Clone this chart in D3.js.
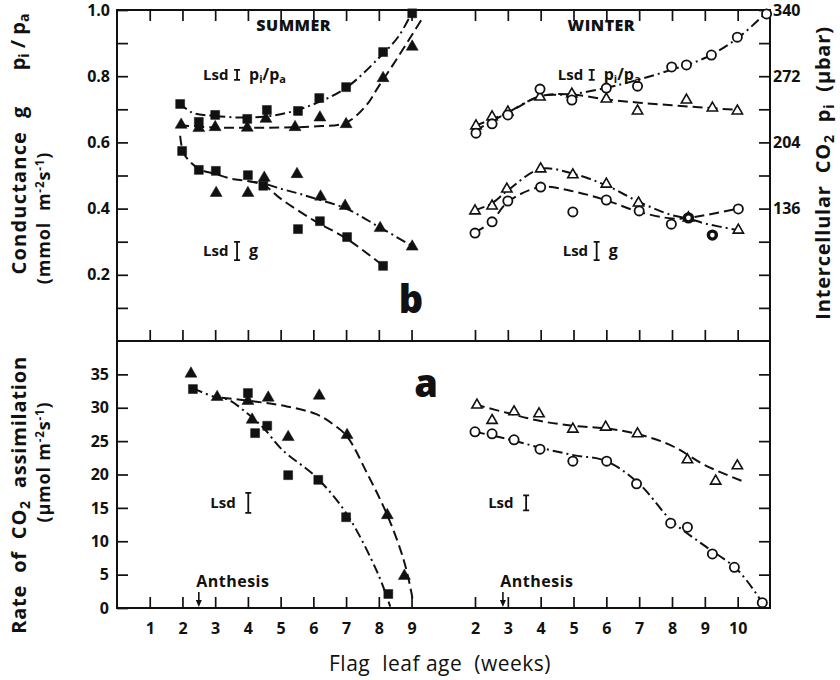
<!DOCTYPE html>
<html>
<head>
<meta charset="utf-8">
<script src="https://cdn.jsdelivr.net/npm/d3@7"></script>
<style>
  body { margin: 0; background: #fff; }
  text { font-family: 'Open Sans', Lato, sans-serif; fill: #111; white-space: pre; }
  .tick text { font-weight: 700; font-size: 16px; }
</style>
</head>
<body>
<div id="chart"></div>
<script>
// ---- data: [week, value] ----
// summer, panel b (pi/pa and conductance g share the left 0..1 axis)
const sumRatioSq = [[1.93,0.716],[2.5,0.662],[3.0,0.683],[3.98,0.671],[4.58,0.698],[5.53,0.695],[6.18,0.734],[7.0,0.767],[8.13,0.873],[9.02,0.99]];
const sumRatioTri = [[1.96,0.653],[2.5,0.643],[3.0,0.646],[3.98,0.644],[4.55,0.671],[5.44,0.646],[6.2,0.675],[7.0,0.655],[8.13,0.794],[9.02,0.889]];
const sumGSq = [[1.99,0.574],[2.5,0.517],[3.02,0.514],[4.0,0.501],[4.47,0.469],[5.53,0.338],[6.2,0.362],[7.03,0.314],[8.13,0.227]];
const sumGTri = [[3.03,0.447],[4.0,0.447],[4.5,0.493],[5.5,0.504],[6.22,0.436],[6.97,0.408],[8.04,0.341],[9.02,0.285]];
// fitted curves
const sumRatioSqFit = [[1.9,0.72],[2.3,0.69],[3.0,0.68],[4.0,0.675],[5.0,0.685],[6.0,0.715],[7.0,0.765],[8.0,0.855],[8.6,0.92],[9.05,1.0]];
const sumRatioTriFit = [[1.9,0.652],[3.0,0.645],[5.0,0.645],[6.0,0.648],[7.0,0.66],[7.6,0.71],[8.0,0.77],[8.6,0.86],[9.3,0.97]];
const sumGSqFit = [[1.93,0.62],[2.05,0.565],[2.5,0.52],[3.0,0.505],[3.5,0.49],[4.0,0.483],[4.5,0.47],[5.0,0.43],[6.0,0.365],[7.0,0.31],[8.1,0.23]];
const sumGTriFit = [[4.0,0.483],[4.5,0.475],[5.0,0.46],[5.5,0.447],[6.0,0.432],[7.0,0.40],[8.0,0.345],[9.0,0.288]];

// winter, panel b
const winRatioCirc = [[2.03,0.628],[2.52,0.656],[3.0,0.683],[3.98,0.761],[4.95,0.728],[6.0,0.764],[6.95,0.77],[7.99,0.828],[8.44,0.834],[9.2,0.864],[9.99,0.918],[10.88,0.988]];
const winRatioTri = [[2.03,0.65],[2.52,0.677],[3.0,0.692],[3.98,0.737],[4.95,0.746],[6.0,0.731],[6.95,0.695],[8.44,0.728],[9.23,0.704],[9.99,0.695]];
const winGTri = [[2.0,0.393],[2.52,0.408],[2.97,0.459],[4.0,0.52],[4.98,0.502],[6.0,0.474],[6.98,0.417],[8.5,0.372],[10.02,0.335]];
const winGCirc = [[2.0,0.326],[2.52,0.36],[3.0,0.423],[4.0,0.465],[4.98,0.39],[6.0,0.426],[7.0,0.393],[7.98,0.353],[10.02,0.399]];
const winGCircHeavy = [[8.5,0.372],[9.23,0.32]];
const winRatioCircFit = [[2.0,0.635],[3.0,0.69],[4.0,0.74],[4.9,0.745],[6.0,0.765],[7.0,0.79],[8.0,0.82],[9.0,0.855],[10.0,0.915],[10.9,0.995]];
const winRatioTriFit = [[2.0,0.65],[3.0,0.69],[4.0,0.74],[4.9,0.745],[6.0,0.73],[7.0,0.72],[8.0,0.712],[9.0,0.705],[10.0,0.698]];
const winGTriFit = [[2.0,0.395],[2.5,0.415],[3.0,0.455],[4.0,0.52],[5.0,0.505],[6.0,0.47],[7.0,0.42],[8.0,0.38],[8.5,0.37],[9.0,0.355],[10.0,0.335]];
const winGCircFit = [[2.0,0.328],[2.5,0.36],[3.0,0.42],[4.0,0.465],[5.0,0.452],[6.0,0.425],[7.0,0.39],[8.0,0.37],[8.5,0.372],[9.0,0.38],[10.0,0.4]];

// panel a, CO2 assimilation (umol m-2 s-1)
const sumATri = [[2.26,35.1],[3.06,31.6],[4.0,31.0],[4.13,28.2],[4.62,31.5],[5.23,25.6],[6.18,31.8],[7.03,25.9],[8.26,13.9],[8.78,4.8]];
const sumASq = [[2.32,32.8],[4.0,32.2],[4.22,26.2],[4.59,27.3],[5.23,19.9],[6.15,19.2],[7.0,13.6],[8.29,2.1]];
const sumASqFit = [[2.32,32.9],[3.0,31.6],[3.4,31.2],[3.97,29.2],[4.47,27],[5.05,23.7],[6.11,19.5],[7.03,14],[7.95,5.4],[8.35,0.2]];
const sumATriFit = [[3.2,31.5],[4.27,30.9],[5.19,30.2],[6.11,29],[6.61,27.5],[7.03,25.7],[7.64,20.2],[8.26,13.9],[8.76,7.2],[9.0,2.2],[9.03,1.2]];
const winATri = [[2.06,30.4],[2.52,28.1],[3.19,29.4],[3.95,29.1],[4.98,26.8],[5.98,27.1],[6.95,26.1],[8.47,22.2],[9.33,19.0],[9.99,21.3]];
const winACirc = [[2.0,26.4],[2.52,26.1],[3.19,25.2],[3.98,23.8],[4.98,22.0],[6.01,22.0],[6.92,18.6],[7.96,12.7],[8.47,12.1],[9.23,8.1],[9.9,6.1],[10.75,0.8]];
const winATriFit = [[2.0,30.5],[3.0,29.2],[4.0,28.0],[5.0,27.3],[6.0,26.9],[7.0,26.0],[8.0,24.3],[9.0,21.4],[10.15,19.0]];
const winACircFit = [[2.0,26.4],[3.0,25.3],[4.0,24.0],[5.0,22.9],[6.0,22.0],[7.0,18.6],[8.0,13.0],[9.0,9.3],[10.0,5.7],[10.75,0.8]];

// anthesis (weeks) and Lsd bar lengths
const anthesisSummer = 2.5, anthesisWinter = 2.85;
const lsdRatio = 0.03, lsdG = 0.055, lsdASummer = 3.0, lsdAWinter = 2.25;

// ticks
const summerWeeks = [1,2,3,4,5,6,7,8,9];
const winterWeeks = [2,3,4,5,6,7,8,9,10];
const topTicks = d3.range(1, 11).map(d => d / 10);
const rightTicks = d3.range(1, 11).map(d => d * 34);
const botTicks = [0,5,10,15,20,25,30,35];

// ---- layout ----
const W = 840, H = 680;
const L = 117, R = 770, T = 10, MID = 341, B = 608;

const xS = d3.scaleLinear().domain([0, 11]).range([L, 477]);
const xW = d3.scaleLinear().domain([2, 11]).range([475, 770.5]);
const yTop = d3.scaleLinear().domain([0, 1]).range([MID, T]);
const yRight = d3.scaleLinear().domain([0, 340]).range([MID, T]);
const yBot = d3.scaleLinear().domain([0, 40]).range([B, MID]);

const svg = d3.select('#chart').append('svg').attr('width', W).attr('height', H);

// axes
function clean(g) { g.select('.domain').remove(); g.selectAll('line').attr('stroke', '#111').attr('stroke-width', 1.7); }

svg.append('g').attr('transform', `translate(${L},0)`)
  .call(d3.axisLeft(yTop).tickValues(topTicks).tickSizeInner(-11).tickSizeOuter(0).tickPadding(7)
    .tickFormat(d => (Math.round(d * 10) % 2 === 0 ? d3.format('.1f')(d) : '')))
  .call(clean);
svg.append('g').attr('transform', `translate(${L},0)`)
  .call(d3.axisLeft(yBot).tickValues(botTicks).tickSizeInner(-11).tickSizeOuter(0).tickPadding(8))
  .call(clean);
svg.append('g').attr('transform', `translate(${R},0)`)
  .call(d3.axisRight(yRight).tickValues(rightTicks).tickSizeInner(-11).tickSizeOuter(0).tickPadding(3)
    .tickFormat(d => (d % 68 === 0 && d >= 136 ? d : '')))
  .call(clean);
svg.append('g').attr('transform', `translate(${R},0)`)
  .call(d3.axisRight(yBot).tickValues(botTicks.slice(1)).tickSizeInner(-11).tickSizeOuter(0).tickFormat(''))
  .call(clean);

[[xS, summerWeeks], [xW, winterWeeks]].forEach(([x, wk]) => {
  svg.append('g').attr('transform', `translate(0,${B})`)
    .call(d3.axisBottom(x).tickValues(wk).tickSizeInner(-11).tickSizeOuter(0).tickPadding(15))
    .call(clean);
  svg.append('g').attr('transform', `translate(0,${T})`)
    .call(d3.axisTop(x).tickValues(wk).tickSizeInner(-11).tickSizeOuter(0).tickFormat(''))
    .call(clean);
  svg.append('g').attr('transform', `translate(0,${MID})`)
    .call(d3.axisTop(x).tickValues(wk).tickSizeInner(11).tickSizeOuter(0).tickFormat(''))
    .call(clean);
});

// frame
const frame = svg.append('g').attr('stroke', '#111').attr('stroke-width', 2).attr('fill', 'none');
frame.append('rect').attr('x', L).attr('y', T).attr('width', R - L).attr('height', B - T);
frame.append('line').attr('x1', L).attr('x2', R).attr('y1', MID).attr('y2', MID);

// curves
const DASH = '10,5', DOT = '10,4,2,4';
function curve(data, x, y, dash) {
  svg.append('path')
    .datum(data)
    .attr('fill', 'none')
    .attr('stroke', '#111')
    .attr('stroke-width', 2)
    .attr('stroke-dasharray', dash)
    .attr('d', d3.line().x(d => x(d[0])).y(d => y(d[1])).curve(d3.curveCatmullRom.alpha(0.5)));
}
curve(sumRatioSqFit, xS, yTop, DOT);
curve(sumRatioTriFit, xS, yTop, DASH);
curve(sumGSqFit, xS, yTop, DASH);
curve(sumGTriFit, xS, yTop, DOT);
curve(winRatioCircFit, xW, yTop, DOT);
curve(winRatioTriFit, xW, yTop, DASH);
curve(winGTriFit, xW, yTop, DOT);
curve(winGCircFit, xW, yTop, DASH);
curve(sumASqFit, xS, yBot, DOT);
curve(sumATriFit, xS, yBot, DASH);
curve(winATriFit, xW, yBot, DASH);
curve(winACircFit, xW, yBot, DOT);

// markers
function points(data, x, y, kind, heavy) {
  const g = svg.append('g');
  if (kind === 'circle') {
    g.selectAll('circle').data(data).join('circle')
      .attr('cx', d => x(d[0])).attr('cy', d => y(d[1]))
      .attr('r', heavy ? 4 : 4.6)
      .attr('fill', '#fff').attr('stroke', '#111').attr('stroke-width', heavy ? 3.4 : 1.8);
  } else {
    const open = kind === 'openTri';
    const sym = kind === 'square' ? d3.symbolSquare : d3.symbolTriangle;
    const size = kind === 'square' ? 80 : (open ? 46 : 62);
    g.selectAll('path').data(data).join('path')
      .attr('transform', d => `translate(${x(d[0])},${y(d[1])})`)
      .attr('d', d3.symbol(sym, size))
      .attr('fill', open ? '#fff' : '#111')
      .attr('stroke', '#111').attr('stroke-width', open ? 1.6 : 0.5);
  }
}
points(sumRatioSq, xS, yTop, 'square');
points(sumRatioTri, xS, yTop, 'tri');
points(sumGSq, xS, yTop, 'square');
points(sumGTri, xS, yTop, 'tri');
points(winRatioTri, xW, yTop, 'openTri');
points(winRatioCirc, xW, yTop, 'circle');
points(winGTri, xW, yTop, 'openTri');
points(winGCirc, xW, yTop, 'circle');
points(winGCircHeavy, xW, yTop, 'circle', true);
points(sumATri, xS, yBot, 'tri');
points(sumASq, xS, yBot, 'square');
points(winATri, xW, yBot, 'openTri');
points(winACirc, xW, yBot, 'circle');

// Lsd bars with labels
function lsd(px, py, len, y, label) {
  const g = svg.append('g').attr('transform', `translate(${px},${py})`);
  g.append('text').attr('x', 0).attr('y', 0).style('font-weight', 700).style('font-size', '15px').text('Lsd');
  const h = Math.abs(y(0) - y(len));
  const bx = label ? 34 : 38, cy = -5;
  g.append('path')
    .attr('d', `M${bx},${cy - h / 2}V${cy + h / 2}M${bx - 3},${cy - h / 2}H${bx + 3}M${bx - 3},${cy + h / 2}H${bx + 3}`)
    .attr('stroke', '#111').attr('stroke-width', 1.8).attr('fill', 'none');
  if (label === 'ratio') {
    const t = g.append('text').attr('x', 46).attr('y', 0).style('font-weight', 700).style('font-size', '16px');
    t.append('tspan').text('p');
    t.append('tspan').attr('dy', 3).style('font-size', '11px').text('i');
    t.append('tspan').attr('dy', -3).text('/p');
    t.append('tspan').attr('dy', 3).style('font-size', '11px').text('a');
  } else if (label === 'g') {
    g.append('text').attr('x', 46).attr('y', 0).style('font-weight', 700).style('font-size', '16px').text('g');
  }
}
lsd(xS(2.63), yTop(0.789), lsdRatio, yTop, 'ratio');
lsd(xS(2.63), yTop(0.257), lsdG, yTop, 'g');
lsd(xW(4.52), yTop(0.789), lsdRatio, yTop, 'ratio');
lsd(xW(4.67), yTop(0.257), lsdG, yTop, 'g');
lsd(xS(2.85), yBot(15), lsdASummer, yBot, null);
lsd(xW(2.4), yBot(15), lsdAWinter, yBot, null);

// anthesis markers
[[xS, anthesisSummer], [xW, anthesisWinter]].forEach(([x, wk]) => {
  const ax = x(wk);
  svg.append('text').attr('x', ax + 34).attr('y', B - 21)
    .attr('text-anchor', 'middle').style('font-weight', 700).style('font-size', '16px')
    .style('letter-spacing', '0.5px').text('Anthesis');
  svg.append('line').attr('x1', ax).attr('x2', ax).attr('y1', B - 16).attr('y2', B - 6)
    .attr('stroke', '#111').attr('stroke-width', 1.6);
  svg.append('path').attr('d', `M${ax - 3},${B - 8}L${ax + 3},${B - 8}L${ax},${B - 1}Z`).attr('fill', '#111');
});

// season and panel labels
svg.append('text').attr('x', xS(5.4)).attr('y', 31).attr('text-anchor', 'middle')
  .style('font-weight', 800).style('font-size', '16px').style('letter-spacing', '0.5px').text('SUMMER');
svg.append('text').attr('x', xW(5.85)).attr('y', 31).attr('text-anchor', 'middle')
  .style('font-weight', 800).style('font-size', '16px').style('letter-spacing', '0.5px').text('WINTER');
svg.append('text').attr('x', 411).attr('y', 313).attr('text-anchor', 'middle')
  .style('font-weight', 800).style('font-size', '38px').text('b');
svg.append('text').attr('x', 426).attr('y', 397).attr('text-anchor', 'middle')
  .style('font-weight', 800).style('font-size', '38px').text('a');

// axis titles
function vtext(x, y, parts, size, ls) {
  const t = svg.append('text').attr('transform', `translate(${x},${y}) rotate(-90)`)
    .attr('text-anchor', 'middle').style('font-weight', 700).style('font-size', size + 'px')
    .style('letter-spacing', (ls || 0) + 'px');
  parts.forEach(p => {
    const s = t.append('tspan').text(p[0]);
    if (p[1] === 'sub') s.attr('dy', 4).style('font-size', (size * 0.7) + 'px');
    if (p[1] === 'sup') s.attr('dy', -6).style('font-size', (size * 0.65) + 'px');
    if (p[1] === 'back') s.attr('dy', -4);
    if (p[1] === 'down') s.attr('dy', 6);
  });
}
vtext(25, 42, [['p'], ['i', 'sub'], [' / p', 'back'], ['a', 'sub']], 20);
vtext(26, 190, [['Conductance  g']], 20, 1.2);
vtext(50, 218, [['(mmol  m'], ['-2', 'sup'], ['s', 'down'], ['-1', 'sup'], [')', 'down']], 18, 0.8);
vtext(26, 495, [['Rate  of  CO'], ['2', 'sub'], ['  assimilation', 'back']], 20, 0.8);
vtext(50, 462, [['(\u03bcmol m'], ['-2', 'sup'], ['s', 'down'], ['-1', 'sup'], [')', 'down']], 18, 0.8);
vtext(830, 173, [['Intercellular  CO'], ['2', 'sub'], ['  p', 'back'], ['i', 'sub'], ['  (\u03bcbar)', 'back']], 20, 0.8);

svg.append('text').attr('x', 440).attr('y', 671).attr('text-anchor', 'middle')
  .style('font-size', '21px').style('font-weight', 400).style('letter-spacing', '0.5px')
  .text('Flag  leaf age  (weeks)');
</script>
</body>
</html>
